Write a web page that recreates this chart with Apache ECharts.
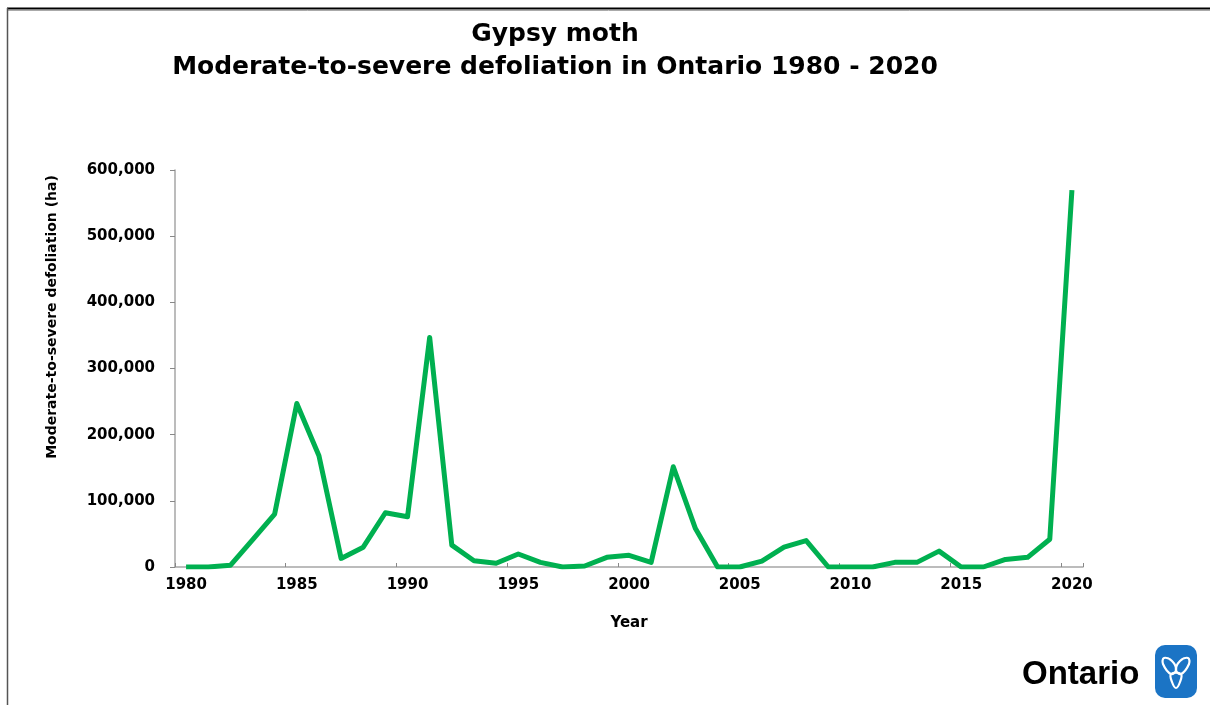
<!DOCTYPE html>
<html>
<head>
<meta charset="utf-8">
<script src="https://cdn.jsdelivr.net/npm/echarts@6/dist/echarts.min.js"></script>
<style>
html,body{margin:0;padding:0;background:#fff;}
#c{width:1210px;height:705px;}
</style>
</head>
<body>
<div id="c"></div>
<script>
const years = ['1980','1981','1982','1983','1984','1985','1986','1987','1988','1989',
  '1990','1991','1992','1993','1994','1995','1996','1997','1998','1999',
  '2000','2001','2002','2003','2004','2005','2006','2007','2008','2009',
  '2010','2011','2012','2013','2014','2015','2016','2017','2018','2019','2020'];
const defoliation = [0, 0, 2500, 41000, 80000, 247000, 168000, 13000, 30000, 82000,
  76000, 347000, 33000, 9500, 5600, 19600, 7000, 0, 1500, 14600,
  17700, 7000, 151500, 58000, 0, 0, 9000, 30000, 40000, 0,
  0, 0, 7000, 7000, 24000, 0, 0, 11500, 14600, 42000, 569500];
const yTicks = {min: 0, max: 600000, interval: 100000};
const titleLines = ['Gypsy moth', 'Moderate-to-severe defoliation in Ontario 1980 - 2020'];
const yName = 'Moderate-to-severe defoliation (ha)';
const xName = 'Year';

const chart = echarts.init(document.getElementById('c'), null, {renderer: 'canvas'});
const axisGray = '#a6a6a6';
const cx = 1176, cy = 671;
function petal(pts) {
  return {type: 'polygon', shape: {points: pts.map(p => [cx + p[0], cy + p[1]]), smooth: 0.4},
    style: {fill: 'none', stroke: '#fff', lineWidth: 2.2}};
}
chart.setOption({
  animation: false,
  backgroundColor: '#ffffff',
  title: {
    text: titleLines.join('\n'),
    left: 555, top: 18, padding: 0,
    textAlign: 'center',
    textStyle: {fontFamily: 'DejaVu Sans', fontWeight: 'bold', fontSize: 25, lineHeight: 33, color: '#000'}
  },
  grid: {left: 175, right: 127, top: 170, bottom: 138, containLabel: false},
  xAxis: {
    type: 'category',
    data: years,
    boundaryGap: true,
    name: xName,
    nameLocation: 'middle',
    nameGap: 49,
    nameTextStyle: {fontFamily: 'DejaVu Sans', fontWeight: 'bold', fontSize: 15, color: '#000'},
    axisLine: {lineStyle: {color: axisGray, width: 1.5}},
    axisTick: {show: true, inside: true, length: 4, interval: 4, lineStyle: {color: '#888', width: 1}},
    axisLabel: {interval: 4, margin: 11, fontFamily: 'DejaVu Sans', fontWeight: 'bold', fontSize: 15, color: '#000'},
    splitLine: {show: false}
  },
  yAxis: {
    type: 'value',
    min: yTicks.min, max: yTicks.max, interval: yTicks.interval,
    axisLine: {show: true, lineStyle: {color: axisGray, width: 1.5}},
    axisTick: {show: true, inside: false, length: 5, lineStyle: {color: '#888', width: 1}},
    axisLabel: {
      margin: 20, fontFamily: 'DejaVu Sans', fontWeight: 'bold', fontSize: 15, color: '#000',
      formatter: v => v.toLocaleString('en-US')
    },
    splitLine: {show: false}
  },
  series: [{
    type: 'line',
    data: defoliation,
    symbol: 'none',
    lineStyle: {color: '#00b050', width: 5, join: 'round', cap: 'butt'},
    itemStyle: {color: '#00b050'}
  }],
  graphic: [
    {type: 'line', shape: {x1: 7, y1: 8.5, x2: 1210, y2: 8.5}, style: {stroke: '#000', lineWidth: 2}},
    {type: 'line', shape: {x1: 7, y1: 10.5, x2: 1210, y2: 10.5}, style: {stroke: '#aaa', lineWidth: 1}},
    {type: 'line', shape: {x1: 7.5, y1: 8, x2: 7.5, y2: 705}, style: {stroke: '#555', lineWidth: 1.5}},
    {type: 'text', x: 52, y: 317, rotation: Math.PI / 2,
      style: {text: yName, fontFamily: 'DejaVu Sans', fontWeight: 'bold', fontSize: 14, fill: '#000', align: 'center', verticalAlign: 'middle'}},
    {type: 'text', x: 1022, y: 675,
      style: {text: 'Ontario', fontFamily: 'Liberation Sans', fontWeight: 'bold', fontSize: 33, fill: '#000', align: 'left', verticalAlign: 'middle'}},
    {type: 'rect', shape: {x: 1155, y: 645, width: 42, height: 53, r: 10}, style: {fill: '#1b74c5'}},
    petal([[0, -1], [-4, -10], [-12, -13], [-13, -7], [-5, 3]]),
    petal([[0, -1], [4, -10], [12, -13], [13, -7], [5, 3]]),
    petal([[-5, 3], [-4, 11], [0, 17], [4, 11], [5, 3]])
  ]
});
</script>
</body>
</html>
